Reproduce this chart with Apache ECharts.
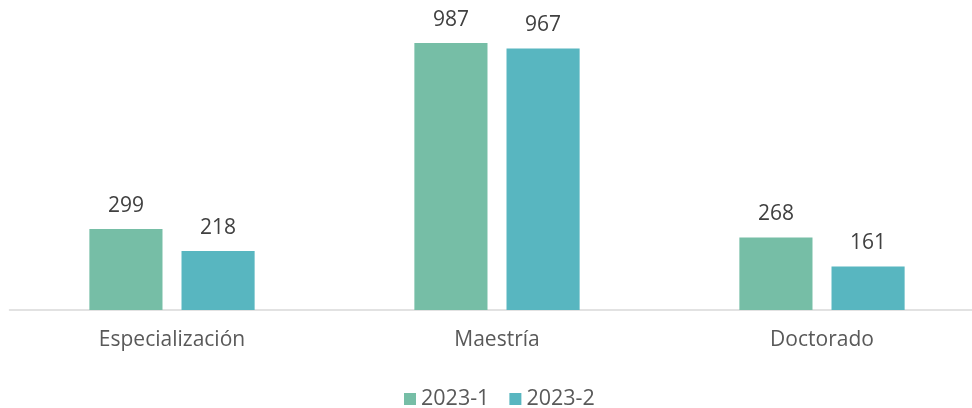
<!DOCTYPE html>
<html><head><meta charset="utf-8">
<script src="https://cdn.jsdelivr.net/npm/echarts@6/dist/echarts.min.js"></script>
<style>html,body{margin:0;padding:0;background:#fff;overflow:hidden}#c{width:972px;height:408px}</style>
</head><body><div id="c"></div>
<script>
const categories = ["Especialización", "Maestría", "Doctorado"];
const series2023_1 = [299, 987, 268];
const series2023_2 = [218, 967, 161];
const seriesNames = ["2023-1", "2023-2"];

const font = "'Open Sans', 'Noto Sans', sans-serif";
const chart = echarts.init(document.getElementById('c'), null, {renderer: 'canvas'});
chart.setOption({
  animation: false,
  textStyle: {fontFamily: font},
  grid: {left: 9.5, width: 975, top: 39.5, bottom: 98, outerBoundsMode: 'none', containLabel: false},
  legend: {
    data: seriesNames, left: 399, top: 383, itemWidth: 12, itemHeight: 12, itemGap: 20,
    icon: 'rect',
    textStyle: {fontFamily: font, fontSize: 21.5, color: '#595959'}
  },
  xAxis: {
    type: 'category', data: categories,
    axisLine: {lineStyle: {color: '#d9d9d9', width: 1.5}},
    axisTick: {show: false},
    axisLabel: {fontFamily: font, fontSize: 21, color: '#595959', margin: 20}
  },
  yAxis: {type: 'value', min: 0, max: 1000, show: false, splitLine: {show: false}},
  series: [
    {name: seriesNames[0], type: 'bar', data: series2023_1, barWidth: '22.5%', barGap: '26%',
     itemStyle: {color: '#76bea6'},
     label: {show: true, position: 'top', distance: 13, fontFamily: font, fontSize: 21, color: '#404040'}},
    {name: seriesNames[1], type: 'bar', data: series2023_2, barWidth: '22.5%', barGap: '26%',
     itemStyle: {color: '#58b6c0'},
     label: {show: true, position: 'top', distance: 13, fontFamily: font, fontSize: 21, color: '#404040'}}
  ]
});
</script></body></html>
